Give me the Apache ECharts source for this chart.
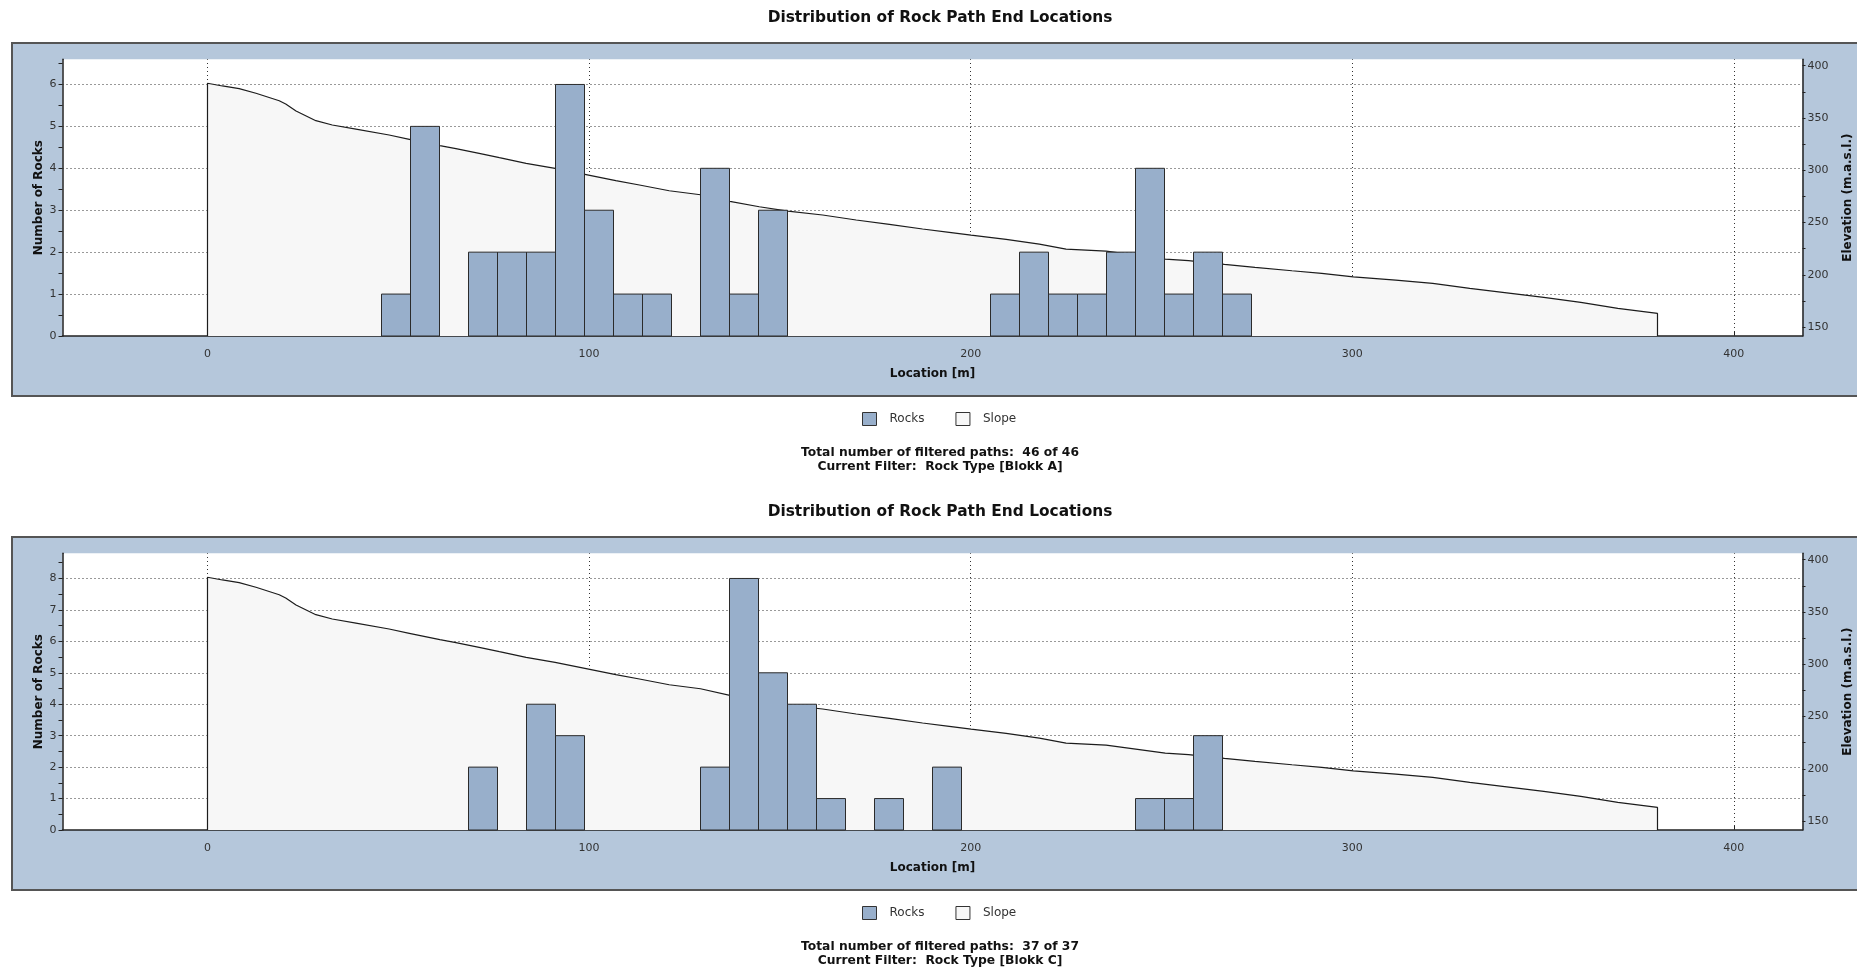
<!DOCTYPE html>
<html>
<head>
<meta charset="utf-8">
<script src="https://cdn.jsdelivr.net/npm/echarts@6/dist/echarts.min.js"></script>
<style>
html,body{margin:0;padding:0;background:#ffffff;}
#chart{width:1857px;height:970px;}
</style>
</head>
<body>
<div id="chart"></div>
<script>
// ---------------- data ----------------
const chartTitle = 'Distribution of Rock Path End Locations';
const seriesNames = ['Rocks', 'Slope'];
const binWidth = 7.6;          // histogram bin width [m], bins start at 0
// rock counts per bin (50 bins, 0..380 m)
const rocksBlokkA = [0,0,0,0,0,0,1,5,0,2, 2,2,6,3,1,1,0,4,1,3, 0,0,0,0,0,0,0,1,2,1, 1,2,4,1,2,1,0,0,0,0, 0,0,0,0,0,0,0,0,0,0];
const rocksBlokkC = [0,0,0,0,0,0,0,0,0,2, 0,4,3,0,0,0,0,2,8,5, 4,1,0,1,0,2,0,0,0,0, 0,0,1,1,3,0,0,0,0,0, 0,0,0,0,0,0,0,0,0,0];
// slope profile: location [m] and elevation [m.a.s.l.]
const slopeX    = [0, 3.9, 8.3, 12.7, 18.8, 20.5, 23.2, 28.4, 32.7, 38.9, 47.6, 52.9, 60.9, 65.1, 71.2, 76.5, 83.5, 91.1, 98.9, 107.0, 113.2, 121.0, 129.2, 136.9, 144.6, 152.1, 161.2, 170.0, 178.7, 187.4, 194.4, 200.1, 209.3, 218.0, 225.0, 235.5, 251.0, 257.1, 266.5, 274.5, 284.2, 292.0, 300.3, 311.4, 321.1, 330.8, 340.5, 350.2, 359.9, 369.6, 380.0];
const slopeElev = [383.2, 380.6, 378.0, 373.6, 366.5, 363.4, 356.7, 347.4, 343.3, 339.4, 333.7, 329.6, 323.5, 320.6, 316.2, 312.0, 306.6, 301.8, 296.1, 290.0, 285.9, 280.4, 276.6, 270.3, 265.1, 261.0, 257.2, 252.4, 248.3, 243.8, 240.6, 238.0, 233.9, 229.4, 224.6, 222.7, 215.1, 213.5, 210.0, 207.1, 203.9, 201.4, 198.1, 195.0, 191.8, 187.0, 182.8, 178.4, 173.6, 167.9, 163.1];
// axes
const xRange = [-38, 418];
const xTickLabels = [0, 100, 200, 300, 400];
const xTicks = [0, 50, 100, 150, 200, 250, 300, 350, 400];
const elevRange = [141.5, 406.1];
const elevTickLabels = [150, 200, 250, 300, 350, 400];
const elevTicks = [150, 175, 200, 225, 250, 275, 300, 325, 350, 375, 400];
const countMaxA = 6.6, countMaxC = 8.8;
const countLabelsA = [0,1,2,3,4,5,6];
const countTicksA = [0,0.5,1,1.5,2,2.5,3,3.5,4,4.5,5,5.5,6,6.5];
const countLabelsC = [0,1,2,3,4,5,6,7,8];
const countTicksC = [0,0.5,1,1.5,2,2.5,3,3.5,4,4.5,5,5.5,6,6.5,7,7.5,8,8.5];
const gridCountLinesA = [1,2,3,4,5,6];
const gridCountLinesC = [1,2,3,4,5,6,7,8];
const footerA = ['Total number of filtered paths:  46 of 46', 'Current Filter:  Rock Type [Blokk A]'];
const footerC = ['Total number of filtered paths:  37 of 37', 'Current Filter:  Rock Type [Blokk C]'];

// ---------------- styling ----------------
const FONT = 'DejaVu Sans';
const BOX_BG = '#b5c7db';
const BAR = '#98afcb';
const SLOPE_FILL = '#f7f7f7';
const DARK = '#222222';
const CX = 940;

const panels = [
  { counts: rocksBlokkA, cmax: countMaxA, clabels: countLabelsA, cticks: countTicksA, glines: gridCountLinesA, footer: footerA,
    titleY: 18, boxY: 43, gridTop: 59.3, legendY: 412, footY: 453 },
  { counts: rocksBlokkC, cmax: countMaxC, clabels: countLabelsC, cticks: countTicksC, glines: gridCountLinesC, footer: footerC,
    titleY: 512, boxY: 537, gridTop: 553.3, legendY: 906, footY: 947 }
];
const GRID_LEFT = 62.5, GRID_W = 1740, GRID_H = 276.7, BOX_H = 353;

const grids = [], xAxes = [], yAxes = [], series = [], graphics = [], legends = [];
const nameStyle = { fontFamily: FONT, fontWeight: 'bold', fontSize: 12, color: '#111' };

panels.forEach((p, i) => {
  grids.push({ left: GRID_LEFT, top: p.gridTop, width: GRID_W, height: GRID_H, show: true,
               backgroundColor: '#ffffff', borderWidth: 0, containLabel: false, outerBoundsMode: 'none' });
  xAxes.push({
    type: 'value', gridIndex: i, min: xRange[0], max: xRange[1],
    name: 'Location [m]', nameLocation: 'middle', nameGap: 31.5, nameTextStyle: nameStyle,
    axisLine: { onZero: false, lineStyle: { color: DARK, width: 1.5 } },
    axisTick: { inside: true, length: 4, lineStyle: { color: DARK }, customValues: xTicks },
    axisLabel: { customValues: xTickLabels, margin: 12.5, fontFamily: FONT, fontSize: 11, color: '#333' },
    splitLine: { show: false }
  });
  yAxes.push({
    type: 'value', gridIndex: i, position: 'left', min: 0, max: p.cmax,
    name: 'Number of Rocks', nameLocation: 'middle', nameGap: 18, nameMoveOverlap: false, nameTextStyle: nameStyle,
    axisLine: { show: true, onZero: false, lineStyle: { color: DARK, width: 1.5 } },
    axisTick: { show: true, length: 4, lineStyle: { color: DARK }, customValues: p.cticks },
    axisLabel: { customValues: p.clabels, margin: 6, fontFamily: FONT, fontSize: 11, color: '#333' },
    splitLine: { show: false }
  });
  yAxes.push({
    type: 'value', gridIndex: i, position: 'right', min: elevRange[0], max: elevRange[1],
    name: 'Elevation (m.a.s.l.)', nameLocation: 'middle', nameGap: 39, nameRotate: 90, nameTextStyle: nameStyle,
    axisLine: { show: true, onZero: false, lineStyle: { color: DARK, width: 1.5 } },
    axisTick: { show: true, length: 3, lineStyle: { color: DARK }, customValues: elevTicks },
    axisLabel: { customValues: elevTickLabels, margin: 5, fontFamily: FONT, fontSize: 11, color: '#333' },
    splitLine: { show: false }
  });

  // dotted grid lines (drawn below the slope and the bars)
  series.push({
    type: 'line', name: 'grid' + i, xAxisIndex: i, yAxisIndex: 2 * i, data: [], z: 1, silent: true,
    markLine: {
      z: 1, symbol: 'none', silent: true, animation: false, label: { show: false },
      lineStyle: { type: [1, 3], color: '#333', width: 1 },
      data: p.glines.map(v => ({ yAxis: v })).concat(xTickLabels.map(v => ({ xAxis: v })))
    }
  });
  // slope profile
  const slopeData = [[slopeX[0], elevRange[0]]]
    .concat(slopeX.map((x, k) => [x, slopeElev[k]]))
    .concat([[slopeX[slopeX.length - 1], elevRange[0]]]);
  series.push({
    type: 'line', name: seriesNames[1], xAxisIndex: i, yAxisIndex: 2 * i + 1, data: slopeData,
    showSymbol: false, symbol: 'none', z: 2, silent: true, animation: false,
    lineStyle: { color: '#1c1c1c', width: 1.2 },
    itemStyle: { color: SLOPE_FILL, borderColor: '#333' },
    areaStyle: { color: SLOPE_FILL, opacity: 1, origin: 'start' }
  });
  // rock histogram
  const barData = [];
  p.counts.forEach((c, k) => { if (c > 0) barData.push([k * binWidth, (k + 1) * binWidth, c]); });
  series.push({
    type: 'custom', name: seriesNames[0], xAxisIndex: i, yAxisIndex: 2 * i, data: barData,
    z: 3, silent: true, animation: false,
    itemStyle: { color: BAR, borderColor: '#2b2b2b', borderWidth: 1 },
    encode: { x: [0, 1], y: 2 },
    renderItem: (params, api) => {
      const a = api.coord([api.value(0), api.value(2)]);
      const b = api.coord([api.value(1), 0]);
      return { type: 'rect', shape: { x: a[0], y: a[1], width: b[0] - a[0], height: b[1] - a[1] },
               style: { fill: BAR, stroke: '#2b2b2b', lineWidth: 1 } };
    }
  });

  legends.push({
    left: 862, top: p.legendY, padding: 0, itemWidth: 14, itemHeight: 13, itemGap: 31, selectedMode: false,
    textStyle: { fontFamily: FONT, fontSize: 12, color: '#333', padding: [0, 0, 0, 8] },
    data: [
      { name: seriesNames[0], icon: 'rect', itemStyle: { color: BAR, borderColor: '#333', borderWidth: 1 } },
      { name: seriesNames[1], icon: 'rect', itemStyle: { color: SLOPE_FILL, borderColor: '#333', borderWidth: 1 } }
    ]
  });

  graphics.push({ type: 'rect', z: -100, silent: true,
    shape: { x: 12, y: p.boxY, width: 1880, height: BOX_H },
    style: { fill: BOX_BG, stroke: '#555', lineWidth: 2 } });
  graphics.push({ type: 'text', x: CX, y: p.titleY, silent: true,
    style: { text: chartTitle, font: 'bold 15.4px "' + FONT + '"', fill: '#111', textAlign: 'center', textVerticalAlign: 'middle' } });
  p.footer.forEach((t, k) => graphics.push({ type: 'text', x: CX, y: p.footY + k * 14, silent: true,
    style: { text: t, font: 'bold 12.3px "' + FONT + '"', fill: '#111', textAlign: 'center', textVerticalAlign: 'middle' } }));
});

const chart = echarts.init(document.getElementById('chart'), null, { renderer: 'canvas' });
chart.setOption({
  animation: false,
  backgroundColor: '#ffffff',
  grid: grids, xAxis: xAxes, yAxis: yAxes, series: series, legend: legends,
  graphic: { elements: graphics }
});
</script>
</body>
</html>
